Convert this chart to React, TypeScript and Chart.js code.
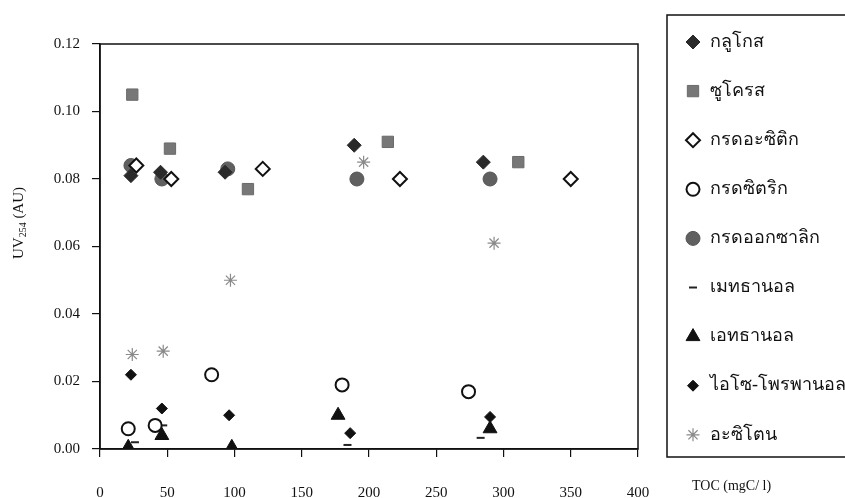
import React, { useEffect, useRef } from 'react';
import { Chart, registerables } from 'chart.js';
import { drawPoint } from 'chart.js/helpers';

Chart.register(...registerables);

// ---- data ----
const seriesNames = [
  'กลูโกส',
  'ซูโครส',
  'กรดอะซิติก',
  'กรดซิตริก',
  'กรดออกซาลิก',
  'เมทธานอล',
  'เอทธานอล',
  'ไอโซ-โพรพานอล',
  'อะซิโตน',
];

const glucoseX = [23, 45, 93, 189, 285];
const glucoseY = [0.081, 0.082, 0.082, 0.09, 0.085];

const sucroseX = [24, 52, 110, 214, 311];
const sucroseY = [0.105, 0.089, 0.077, 0.091, 0.085];

const aceticX = [27, 53, 121, 223, 350];
const aceticY = [0.084, 0.08, 0.083, 0.08, 0.08];

const citricX = [21, 41, 83, 180, 274];
const citricY = [0.006, 0.007, 0.022, 0.019, 0.017];

const oxalicX = [23, 46, 95, 191, 290];
const oxalicY = [0.084, 0.08, 0.083, 0.08, 0.08];

const methanolX = [26, 47, 184, 283];
const methanolY = [0.002, 0.007, 0.0012, 0.0033];

const ethanolX = [21, 46, 98, 177, 290];
const ethanolY = [0.0005, 0.004, 0.0005, 0.01, 0.006];

const isopropanolX = [23, 46, 96, 186, 290];
const isopropanolY = [0.022, 0.012, 0.01, 0.0047, 0.0095];

const acetoneX = [24, 47, 97, 196, 293];
const acetoneY = [0.028, 0.029, 0.05, 0.085, 0.061];

const xTicks = [0, 50, 100, 150, 200, 250, 300, 350, 400];
const yTicks = [0, 0.02, 0.04, 0.06, 0.08, 0.1, 0.12];

const xTitle = 'TOC (mgC/ l)';
const yTitleMain = 'UV';
const yTitleSub = '254';
const yTitleTail = ' (AU)';

const SERIF = "'Liberation Serif', 'Times New Roman', 'DejaVu Serif', serif";

const pts = (xs: number[], ys: number[]) => xs.map((x, i) => ({ x, y: ys[i] }));

type Style = {
  pointStyle: string;
  radius: number;
  bg: string;
  border: string;
  bw: number;
};

const styles: Style[] = [
  { pointStyle: 'rectRot', radius: 7, bg: '#2a2a2a', border: '#2a2a2a', bw: 1 },
  { pointStyle: 'rect', radius: 8, bg: '#777777', border: '#6a6a6a', bw: 1 },
  { pointStyle: 'rectRot', radius: 7, bg: '#ffffff', border: '#111111', bw: 2 },
  { pointStyle: 'circle', radius: 6.5, bg: '#ffffff', border: '#111111', bw: 2 },
  { pointStyle: 'circle', radius: 7, bg: '#606060', border: '#555555', bw: 1 },
  { pointStyle: 'line', radius: 4, bg: '#222222', border: '#222222', bw: 2 },
  { pointStyle: 'triangle', radius: 8, bg: '#111111', border: '#111111', bw: 1 },
  { pointStyle: 'rectRot', radius: 5.5, bg: '#111111', border: '#111111', bw: 1 },
  { pointStyle: 'star', radius: 6.5, bg: '#8a8a8a', border: '#8a8a8a', bw: 1.2 },
];

const seriesData = [
  pts(glucoseX, glucoseY),
  pts(sucroseX, sucroseY),
  pts(aceticX, aceticY),
  pts(citricX, citricY),
  pts(oxalicX, oxalicY),
  pts(methanolX, methanolY),
  pts(ethanolX, ethanolY),
  pts(isopropanolX, isopropanolY),
  pts(acetoneX, acetoneY),
];

const decorPlugin = {
  id: 'decor',
  afterDraw(chart: any) {
    const { ctx, chartArea: a } = chart;
    ctx.save();
    // plot frame
    ctx.strokeStyle = '#111111';
    ctx.lineWidth = 1.5;
    ctx.strokeRect(a.left, a.top, a.right - a.left, a.bottom - a.top);

    // legend box
    ctx.lineWidth = 1.5;
    ctx.strokeRect(667, 15, 220, 442);
    const ds = chart.data.datasets;
    ds.forEach((d: any, i: number) => {
      const y = 42 + i * 49.1;
      ctx.fillStyle = d.backgroundColor;
      ctx.strokeStyle = d.borderColor;
      ctx.lineWidth = d.borderWidth;
      drawPoint(
        ctx,
        { pointStyle: d.pointStyle, radius: d.pointRadius, rotation: 0, borderWidth: d.borderWidth },
        693,
        y
      );
      ctx.fillStyle = '#111111';
      ctx.font = `18px ${SERIF}`;
      ctx.textAlign = 'left';
      ctx.textBaseline = 'middle';
      ctx.fillText(d.label, 710, y);
    });

    // x title
    ctx.fillStyle = '#111111';
    ctx.font = `14px ${SERIF}`;
    ctx.textAlign = 'left';
    ctx.textBaseline = 'middle';
    ctx.fillText(xTitle, 692, 486);

    // y title with subscript
    ctx.translate(18, 223);
    ctx.rotate(-Math.PI / 2);
    const big = `15px ${SERIF}`;
    const small = `10px ${SERIF}`;
    ctx.font = big;
    const w1 = ctx.measureText(yTitleMain).width;
    const w3 = ctx.measureText(yTitleTail).width;
    ctx.font = small;
    const w2 = ctx.measureText(yTitleSub).width;
    const total = w1 + w2 + w3;
    let x = -total / 2;
    ctx.textBaseline = 'alphabetic';
    ctx.font = big;
    ctx.fillText(yTitleMain, x, 5);
    x += w1;
    ctx.font = small;
    ctx.fillText(yTitleSub, x, 8);
    x += w2;
    ctx.font = big;
    ctx.fillText(yTitleTail, x, 5);
    ctx.restore();
  },
};

export default function App() {
  const ref = useRef<HTMLCanvasElement | null>(null);

  useEffect(() => {
    if (!ref.current) return;
    const chart = new Chart(ref.current, {
      type: 'scatter',
      data: {
        datasets: seriesNames.map((name, i) => ({
          label: name,
          data: seriesData[i],
          pointStyle: styles[i].pointStyle as any,
          pointRadius: styles[i].radius,
          pointHoverRadius: styles[i].radius,
          backgroundColor: styles[i].bg,
          borderColor: styles[i].border,
          borderWidth: styles[i].bw,
          pointBorderWidth: styles[i].bw,
          showLine: false,
        })),
      },
      options: {
        responsive: false,
        animation: false,
        layout: { padding: { left: 0, right: 207, top: 44, bottom: 0 } },
        plugins: {
          legend: { display: false },
          tooltip: { enabled: false },
          title: { display: false },
        },
        scales: {
          x: {
            type: 'linear',
            min: 0,
            max: 400,
            afterBuildTicks: (s: any) => {
              s.ticks = xTicks.map((v) => ({ value: v }));
            },
            afterFit: (s: any) => {
              s.height = 49;
            },
            ticks: {
              font: { family: SERIF, size: 15 },
              color: '#111111',
              padding: 27,
              maxRotation: 0,
              callback: (v: any) => String(v),
            },
            grid: {
              drawOnChartArea: false,
              drawTicks: true,
              tickLength: 8,
              color: '#111111',
              lineWidth: 1.2,
            },
            border: { display: true, color: '#111111', width: 1.5 },
          },
          y: {
            type: 'linear',
            min: 0,
            max: 0.12,
            afterBuildTicks: (s: any) => {
              s.ticks = yTicks.map((v) => ({ value: v }));
            },
            afterFit: (s: any) => {
              s.width = 100;
            },
            ticks: {
              font: { family: SERIF, size: 15 },
              color: '#111111',
              padding: 12,
              callback: (v: any) => Number(v).toFixed(2),
            },
            grid: {
              drawOnChartArea: false,
              drawTicks: true,
              tickLength: 8,
              color: '#111111',
              lineWidth: 1.2,
            },
            border: { display: true, color: '#111111', width: 1.5 },
          },
        },
      },
      plugins: [decorPlugin],
    });
    return () => chart.destroy();
  }, []);

  return (
    <div style={{ position: 'fixed', left: 0, top: 0, width: 845, height: 498, background: '#ffffff' }}>
      <canvas ref={ref} width={845} height={498} style={{ display: 'block', width: 845, height: 498 }} />
    </div>
  );
}
